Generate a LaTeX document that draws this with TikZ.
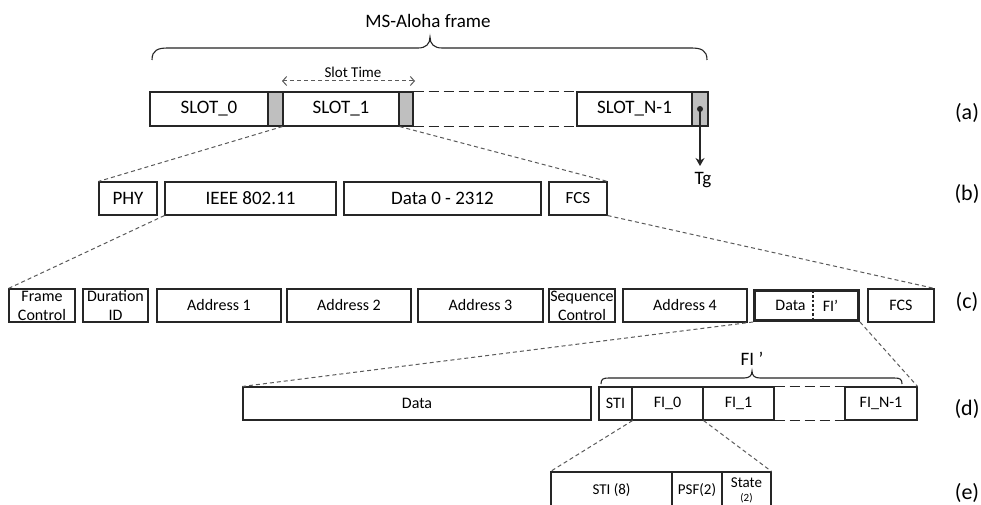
\documentclass[tikz,border=0pt]{standalone}
\usepackage{fontspec}
\setmainfont{Carlito}
\usetikzlibrary{arrows.meta}
\definecolor{edgec}{HTML}{262626}
\definecolor{guardc}{HTML}{BFBFBF}
\definecolor{linkc}{HTML}{5A5A5A}
\newcommand\szA{\fontsize{19}{22}\selectfont}
\newcommand\szB{\fontsize{16}{19}\selectfont}
\newcommand\szC{\fontsize{15}{17}\selectfont}
\newcommand\szL{\fontsize{22}{26}\selectfont}
\newcommand\szS{\fontsize{11}{12}\selectfont}
\begin{document}
\begin{tikzpicture}[x=1pt,y=-1pt,
  fld/.style={draw=edgec, line width=1.1pt, fill=white, inner sep=0pt, minimum height=33pt},
  big/.style={fld, font=\szA},
  mid/.style={fld, font=\szB},
  sml/.style={fld, font=\szC, minimum height=40pt},
  guard/.style={fld, fill=guardc, minimum height=34pt},
  lbl/.style={inner sep=0pt, align=center, font=\szB},
  lbls/.style={inner sep=0pt, align=center, font=\szC},
  link/.style={draw=linkc, line width=1pt, dash pattern=on 4pt off 3pt},
  gap/.style={draw=edgec, line width=1.1pt, dash pattern=on 10pt off 5pt},
  bracel/.style={draw=edgec, line width=1.1pt},
  rowtag/.style={font=\szL, inner sep=0pt}]
\useasboundingbox (0,0) rectangle (981,505);
\clip (0,0) rectangle (981,505);
\fill[white] (0,0) rectangle (981,505);

% ---- (a) MS-Aloha frame ----
\node[font=\szA, inner sep=0pt] (title) at (428,21) {MS-Aloha frame};
\draw[bracel] (152,60) .. controls (152,50) and (158,48) .. (168,48) -- (418,48)
  .. controls (426,48) and (430,44) .. (430,37)
  .. controls (430,44) and (434,48) .. (442,48) -- (691,48)
  .. controls (701,48) and (707,50) .. (707,60);

\node[big, minimum width=118pt, minimum height=34pt] (s0) at (209,109) {SLOT\_0};
\node[guard, minimum width=15pt] (g0) at (275.5,109) {};
\node[big, minimum width=116pt, minimum height=34pt] (s1) at (341,109) {SLOT\_1};
\node[guard, minimum width=14pt] (g1) at (406,109) {};
\node[big, minimum width=115pt, minimum height=34pt] (sN) at (634.5,109) {SLOT\_N-1};
\node[guard, minimum width=16pt] (gN) at (700,109) {};
\draw[gap] (g1.north east) -- (sN.north west);
\draw[gap] (g1.south east) -- (sN.south west);

% slot time
\node[font=\szC, inner sep=0pt] (stt) at (353,72) {Slot Time};
\coordinate (stl) at (282,81);
\coordinate (str) at (415,81);
\draw[link, {Straight Barb[length=4pt,width=9pt]}-{Straight Barb[length=4pt,width=9pt]}] (stl) -- (str);

% guard time
\fill[edgec] (gN.center) circle (3pt);
\node[font=\szA, inner sep=0pt, anchor=north] (tg) at (703,172) {Tg};
\coordinate (tgtip) at (700,166);
\draw[edgec, line width=1.1pt, -{Stealth[length=8pt,width=9pt]}] (gN.center) -- (tgtip);

% ---- (b) 802.11 packet ----
\node[big, minimum width=58pt] (phy) at (128,198.5) {PHY};
\node[big, minimum width=171pt] (ieee) at (250.5,198.5) {IEEE 802.11};
\node[big, minimum width=197pt] (d02) at (442.5,198.5) {Data 0 - 2312};
\node[fld, font=\fontsize{17}{20}\selectfont, minimum width=58pt] (fcsb) at (578,198.5) {FCS};

% ---- (c) MAC header ----
\node[mid, minimum width=66pt, label={[lbl]center:Frame\\Control}] (fc) at (42,305.5) {};
\node[mid, minimum width=65pt, label={[lbl]center:Duration\\ID}] (dur) at (115.5,305.5) {};
\node[mid, minimum width=124pt] (a1) at (219,305.5) {Address 1};
\node[mid, minimum width=124pt] (a2) at (349,305.5) {Address 2};
\node[mid, minimum width=125pt] (a3) at (480.5,305.5) {Address 3};
\node[mid, minimum width=66pt, label={[lbl]center:Sequence\\Control}] (seq) at (582,305.5) {};
\node[mid, minimum width=124pt] (a4) at (685,305.5) {Address 4};
\node[mid, line width=3pt, minimum width=104pt, minimum height=30pt,
  label={[lbl, xshift=-16pt]center:Data}, label={[lbl, xshift=24pt]center:FI’}] (dfi) at (806.5,305.5) {};
\draw[edgec, line width=2.5pt, dash pattern=on 2.5pt off 2pt, shorten <=1.5pt, shorten >=1.5pt]
  ([xshift=6.5pt]dfi.north) -- ([xshift=6.5pt]dfi.south);
\node[mid, minimum width=66pt] (fcsc) at (901,305.5) {FCS};

% ---- (d) data field ----
\node[font=\szA, inner sep=0pt] (fil) at (752,359) {FI ’};
\draw[bracel] (601,384) .. controls (601,379) and (603,378) .. (609,378) -- (744,378)
  .. controls (749,378) and (752,376) .. (752,371)
  .. controls (752,376) and (755,378) .. (760,378) -- (894,378)
  .. controls (900,378) and (902,379) .. (902,384);
\node[mid, minimum width=348pt] (datd) at (417,403.5) {Data};
\node[mid, minimum width=33pt] (sti) at (615.5,403.5) {STI};
\node[mid, minimum width=71pt] (fi0) at (667.5,403.5) {FI\_0};
\node[mid, minimum width=71pt] (fi1) at (738.5,403.5) {FI\_1};
\node[mid, minimum width=72pt] (fin) at (881,403.5) {FI\_N-1};
\draw[gap] (fi1.north east) -- (fin.north west);
\draw[gap] (fi1.south east) -- (fin.south west);

% ---- (e) frame information ----
\node[sml, minimum width=121pt, label={[lbls, yshift=2pt]center:STI (8)}] (sti8) at (611.5,492) {};
\node[sml, minimum width=50pt, label={[lbls, yshift=2pt]center:PSF(2)}] (psf) at (697,492) {};
\node[sml, minimum width=49pt, label={[lbls, yshift=2pt]center:State\\[-3pt]{\szS(2)}}] (st) at (746.5,492) {};

% ---- zoom-in links ----
\draw[link] (s1.south west) -- (phy.north west);
\draw[link] (s1.south east) -- (fcsb.north east);
\draw[link] (ieee.south west) -- (fc.north west);
\draw[link] (fcsb.south east) -- (fcsc.north east);
\draw[link] (dfi.south west) -- (datd.north west);
\draw[link] (dfi.south east) -- (fin.north east);
\draw[link] (sti.south east) -- (sti8.north west);
\draw[link] (fi0.south east) -- (st.north east);

% ---- row tags ----
\node[rowtag] (ta) at (967,113) {(a)};
\node[rowtag] (tb) at (967,194) {(b)};
\node[rowtag] (tc) at (967,302) {(c)};
\node[rowtag] (td) at (967,409) {(d)};
\node[rowtag] (te) at (967,493) {(e)};
\end{tikzpicture}
\end{document}
